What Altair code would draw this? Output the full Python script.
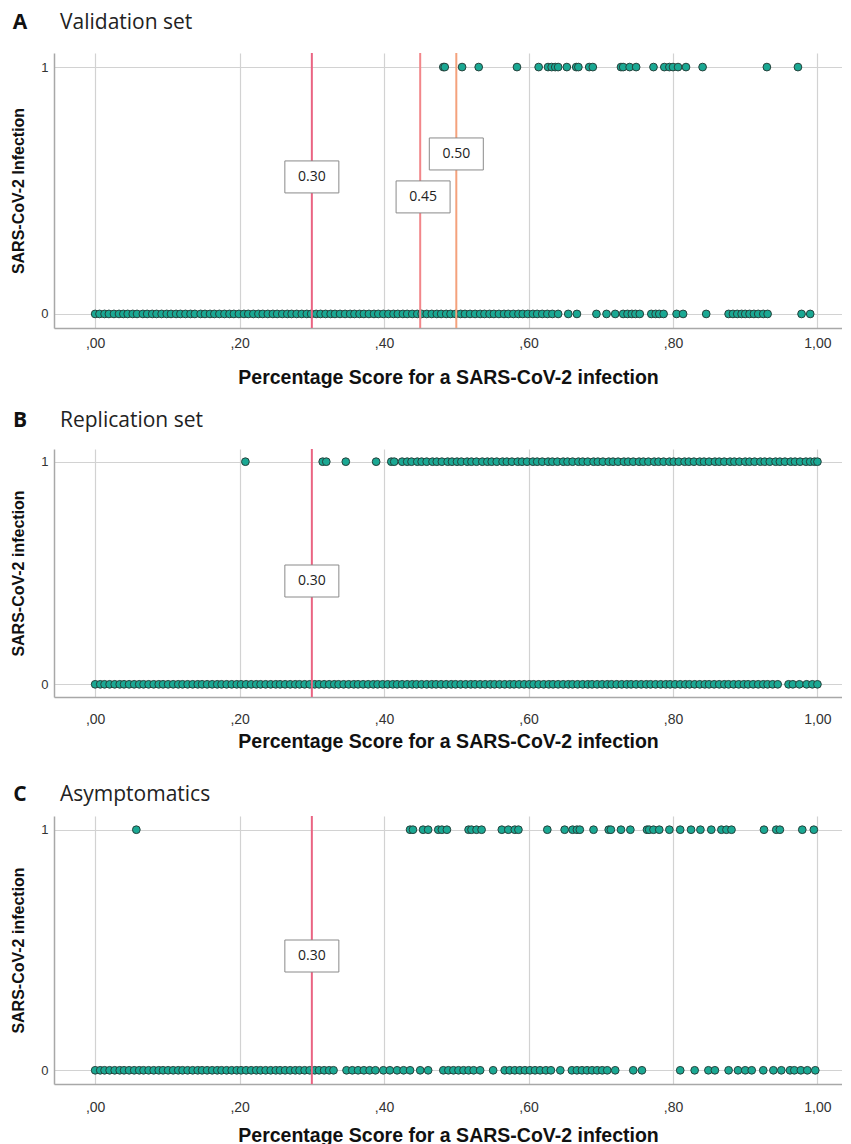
import altair as alt
import pandas as pd

# ---------------- data (scores in thousandths) ----------------
A_POS = [482, 484, 508, 531, 584, 614, 627, 632, 637, 641, 653, 666, 669, 684, 689,
         728, 731, 740, 749, 773, 788, 795, 800, 807, 818, 841, 930, 973]
A_NEG = [0, 6, 13, 19, 26, 33, 39, 45, 52, 58, 66, 72, 79, 85, 92, 99, 105, 112, 118,
         125, 132, 138, 146, 152, 159, 165, 172, 179, 186, 192, 199, 206, 212, 219, 226,
         232, 239, 246, 252, 259, 266, 272, 279, 286, 293, 299, 306, 312, 319, 326, 332,
         339, 346, 353, 359, 366, 372, 379, 386, 392, 399, 406, 413, 419, 426, 432, 439,
         446, 452, 459, 466, 473, 479, 486, 492, 499, 506, 512, 519, 526, 533, 539, 546,
         552, 559, 566, 572, 579, 586, 592, 599, 606, 612, 619, 626, 633, 641, 655, 667,
         694, 708, 720, 731, 737, 743, 748, 754, 770, 776, 781, 787, 805, 814, 846, 877,
         883, 889, 895, 900, 906, 912, 918, 925, 931, 978, 990]

B_POS = [208, 315, 320, 347, 389, 410, 414, 425, 432, 438, 446, 452, 459, 467, 473, 480,
         488, 494, 501, 507, 515, 521, 528, 536, 543, 549, 556, 564, 570, 577, 585, 591,
         598, 606, 612, 619, 627, 633, 640, 648, 654, 661, 669, 675, 682, 690, 696, 703,
         711, 717, 724, 732, 738, 745, 753, 759, 766, 774, 780, 787, 795, 801, 808, 816,
         822, 829, 837, 843, 850, 858, 864, 871, 879, 885, 892, 900, 906, 913, 921, 927,
         934, 942, 948, 955, 963, 969, 976, 984, 990, 996, 1000]
B_NEG = [0, 7, 13, 20, 27, 34, 40, 47, 54, 61, 67, 74, 81, 88, 94, 101, 108, 115, 121,
         128, 135, 142, 148, 155, 162, 169, 175, 182, 189, 196, 202, 209, 216, 223, 229,
         236, 243, 250, 256, 263, 270, 277, 283, 290, 297, 304, 310, 317, 324, 331, 337,
         344, 351, 358, 364, 371, 378, 385, 391, 398, 405, 412, 418, 425, 432, 439, 445,
         452, 459, 466, 472, 479, 486, 493, 499, 506, 513, 520, 526, 533, 540, 547, 553,
         560, 567, 574, 580, 587, 594, 601, 607, 614, 621, 628, 634, 641, 648, 655, 661,
         668, 675, 682, 688, 695, 702, 709, 715, 722, 729, 736, 742, 749, 756, 763, 769,
         776, 783, 790, 796, 803, 810, 817, 823, 830, 837, 844, 850, 857, 864, 871, 877,
         884, 891, 898, 904, 911, 918, 925, 931, 938, 945, 960, 966, 975, 985, 993, 1000]

C_POS = [57, 436, 440, 454, 461, 475, 480, 487, 517, 521, 528, 535, 563, 572, 581, 586,
         626, 650, 661, 667, 671, 690, 711, 714, 728, 741, 764, 767, 773, 781, 795, 810,
         825, 838, 853, 867, 874, 881, 926, 943, 948, 979, 995]
C_NEG = [0, 7, 13, 20, 27, 34, 40, 47, 54, 61, 67, 74, 81, 88, 94, 101, 108, 115, 121,
         128, 135, 142, 148, 155, 162, 169, 175, 182, 189, 196, 202, 209, 216, 223, 229,
         236, 243, 250, 256, 263, 270, 277, 283, 290, 297, 304, 310, 317, 324, 330, 348,
         356, 364, 372, 380, 388, 399, 408, 418, 427, 436, 450, 461, 482, 489, 496, 503,
         510, 517, 524, 533, 551, 567, 574, 581, 588, 595, 602, 609, 616, 624, 631, 644,
         660, 667, 674, 681, 688, 695, 702, 709, 720, 745, 757, 810, 830, 849, 858, 877,
         890, 900, 909, 925, 939, 950, 962, 968, 977, 986, 997]

A_CUTS = [0.30, 0.45, 0.50]
A_CUT_LABELS = ["0.30", "0.45", "0.50"]
A_LABEL_X = [0.30, 0.454, 0.50]
A_LABEL_Y = [0.555, 0.474, 0.648]
B_CUTS = [0.30]
B_CUT_LABELS = ["0.30"]
B_LABEL_X = [0.30]
B_LABEL_Y = [0.464]
C_CUTS = [0.30]
C_CUT_LABELS = ["0.30"]
C_LABEL_X = [0.30]
C_LABEL_Y = [0.475]

CUT_COLORS = {0.30: "#ea6482", 0.45: "#f2868a", 0.50: "#f4a27c"}

X_TICKS = [0, 0.2, 0.4, 0.6, 0.8, 1.0]
Y_TICKS = [0, 1]
X_TITLE = "Percentage Score for a SARS-CoV-2 infection"

X_DOMAIN = [-0.057, 1.034]
Y_DOMAIN = [-0.057, 1.057]
PLOT_W = 788

AXIS_FONT = "Liberation Sans"
TEXT_FONT = "Open Sans"


def panel(letter, name, ytitle, pos, neg, cuts, cut_labels, label_x, label_y, height,
          title_dy, lab_pad, title_pad):
    xs = alt.Scale(domain=X_DOMAIN, nice=False, zero=False)
    ys = alt.Scale(domain=Y_DOMAIN, nice=False, zero=False)
    pts = pd.DataFrame({
        "score": [v / 1000 for v in neg] + [v / 1000 for v in pos],
        "inf": [0] * len(neg) + [1] * len(pos),
    })
    xax = alt.Axis(values=X_TICKS, title=X_TITLE, grid=True, gridColor="#d2d2d2",
                   gridWidth=1.2, ticks=False, domainColor="#a8a8a8", domainWidth=1.5,
                   labelExpr="datum.value >= 1 ? '1,00' : replace(format(datum.value, '.2f'), '0.', ',')",
                   labelFont=AXIS_FONT, labelFontSize=14, labelColor="#333333",
                   labelPadding=lab_pad, titleFont=AXIS_FONT, titleFontSize=19.5,
                   titleFontWeight="bold", titleColor="#111111", titlePadding=title_pad)
    yax = alt.Axis(values=Y_TICKS, format="d", title=ytitle, grid=True, gridColor="#d2d2d2",
                   gridWidth=1.2, ticks=False, domainColor="#a8a8a8", domainWidth=1.5,
                   labelFont=AXIS_FONT, labelFontSize=13, labelColor="#333333",
                   labelPadding=6, titleFont=AXIS_FONT, titleFontSize=16,
                   titleFontWeight="bold", titleColor="#111111", titlePadding=14)

    points = alt.Chart(pts).mark_circle(
        size=60, color="#1aa893", stroke="#26423c", strokeWidth=1, opacity=1
    ).encode(x=alt.X("score:Q", scale=xs, axis=xax), y=alt.Y("inf:Q", scale=ys, axis=yax))

    cdf = pd.DataFrame({"cut": cuts, "col": [CUT_COLORS[c] for c in cuts],
                        "lab": cut_labels, "lx": label_x, "ly": label_y})
    rules = alt.Chart(cdf).mark_rule(strokeWidth=2).encode(
        x=alt.X("cut:Q", scale=xs), color=alt.Color("col:N", scale=None))

    # label boxes around threshold labels
    unit_px_y = height / (Y_DOMAIN[1] - Y_DOMAIN[0])
    unit_px_x = PLOT_W / (X_DOMAIN[1] - X_DOMAIN[0])
    half_w = 27 / unit_px_x
    half_h = 16 / unit_px_y
    box_df = cdf.assign(x1=cdf["lx"] - half_w, x2=cdf["lx"] + half_w,
                        y1=cdf["ly"] - half_h, y2=cdf["ly"] + half_h)
    boxes = alt.Chart(box_df).mark_rect(fill="white", stroke="#8a8a8a", strokeWidth=1).encode(
        x=alt.X("x1:Q", scale=xs), x2="x2:Q", y=alt.Y("y1:Q", scale=ys), y2="y2:Q")
    btext = alt.Chart(cdf).mark_text(font=TEXT_FONT, fontSize=14, color="#222222").encode(
        x=alt.X("lx:Q", scale=xs), y=alt.Y("ly:Q", scale=ys), text="lab:N")

    t1 = alt.Chart(pd.DataFrame({"t": [letter]})).mark_text(
        font=TEXT_FONT, fontSize=21, fontWeight="bold", color="#111111",
        align="center", baseline="middle", x=-34, y=title_dy).encode(text="t:N")
    t2 = alt.Chart(pd.DataFrame({"t": [name]})).mark_text(
        font=TEXT_FONT, fontSize=21, color="#222222",
        align="left", baseline="middle", x=6, y=title_dy).encode(text="t:N")

    return alt.layer(points, rules, boxes, btext, t1, t2).properties(
        width=PLOT_W, height=height)


pA = panel("A", "Validation set", "SARS-CoV-2 Infection", A_POS, A_NEG,
           A_CUTS, A_CUT_LABELS, A_LABEL_X, A_LABEL_Y, 275, -30, 8, 18)
pB = panel("B", "Replication set", "SARS-CoV-2 infection", B_POS, B_NEG,
           B_CUTS, B_CUT_LABELS, B_LABEL_X, B_LABEL_Y, 248, -28, 15, 6)
pC = panel("C", "Asymptomatics", "SARS-CoV-2 infection", C_POS, C_NEG,
           C_CUTS, C_CUT_LABELS, C_LABEL_X, C_LABEL_Y, 268, -21, 16, 12)

chart = alt.vconcat(alt.vconcat(pA, pB, spacing=23), pC, spacing=33).properties(
    padding={"left": 2, "right": 0, "top": 4, "bottom": 0}
).configure_view(stroke=None)

chart.save("out.html", embed_options={"renderer": "svg", "actions": False})
